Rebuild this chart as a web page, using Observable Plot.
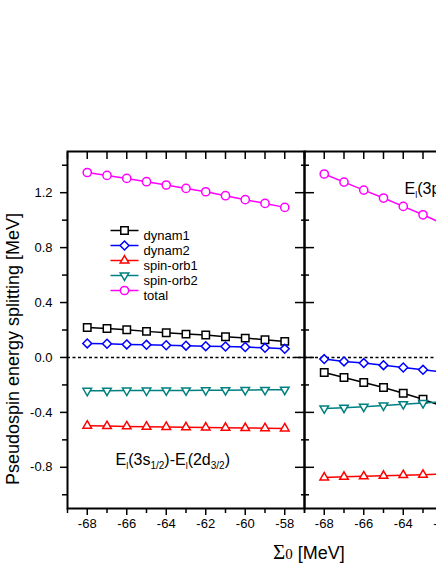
<!DOCTYPE html>
<html><head><meta charset="utf-8">
<script src="https://cdn.jsdelivr.net/npm/d3@7"></script>
<script src="https://cdn.jsdelivr.net/npm/@observablehq/plot@0.6"></script>
<style>
html,body{margin:0;padding:0;background:#fff;}
#wrap{width:436px;height:564px;overflow:hidden;position:relative;background:#fff;}
#wrap svg{max-width:none !important;}
</style></head><body><div id="wrap"></div>
<script>
// ---- data ----
const sigmaLeft = [-68,-67,-66,-65,-64,-63,-62,-61,-60,-59,-58];
const sigmaRight = [-68,-67,-66,-65,-64,-63,-62];
const seriesNames = ["dynam1","dynam2","spin-orb1","spin-orb2","total"];
const seriesColors = ["#000000","#0000ff","#ff0000","#008080","#ff00ff"];

const dynam1L = [0.218,0.211,0.202,0.190,0.180,0.170,0.163,0.151,0.141,0.129,0.117];
const dynam2L = [0.102,0.100,0.095,0.092,0.089,0.086,0.082,0.080,0.076,0.070,0.063];
const spinorb1L = [-0.497,-0.500,-0.502,-0.504,-0.506,-0.508,-0.510,-0.512,-0.514,-0.515,-0.517];
const spinorb2L = [-0.243,-0.242,-0.241,-0.241,-0.240,-0.240,-0.239,-0.238,-0.237,-0.236,-0.235];
const totalL = [1.347,1.326,1.304,1.280,1.256,1.231,1.207,1.178,1.149,1.122,1.093];

const dynam1R = [-0.109,-0.146,-0.182,-0.219,-0.260,-0.305,-0.355];
const dynam2R = [-0.012,-0.029,-0.041,-0.056,-0.073,-0.090,-0.105];
const spinorb1R = [-0.874,-0.869,-0.866,-0.862,-0.857,-0.854,-0.850];
const spinorb2R = [-0.371,-0.366,-0.359,-0.350,-0.340,-0.332,-0.323];
const totalR = [1.336,1.277,1.219,1.161,1.100,1.039,0.975];

const xMajor = [-68,-66,-64,-62,-60,-58];
const xMinor = [-69,-67,-65,-63,-61,-59,-57];
const yMajor = [-0.8,-0.4,0,0.4,0.8,1.2];
const yMinor = [-1.0,-0.6,-0.2,0.2,0.6,1.0,1.4];

const yLabel = "Pseudospin energy splitting [MeV]";
const annotLeft = [["E",0],["l",1],["(3s",0],["1/2",1],[")-E",0],["l",1],["(2d",0],["3/2",1],[")",0]];
const annotRight = [["E",0],["l",1],["(3p",0],["3/2",1],[")-E",0],["l",1],["(2f",0],["5/2",1],[")",0]];

// ---- build table ----
const leftValues = [dynam1L,dynam2L,spinorb1L,spinorb2L,totalL];
const rightValues = [dynam1R,dynam2R,spinorb1R,spinorb2R,totalR];
const rows = [];
seriesNames.forEach((s,i)=>{
  leftValues[i].forEach((v,j)=>rows.push({panel:"a",series:s,x:sigmaLeft[j],y:v}));
  rightValues[i].forEach((v,j)=>rows.push({panel:"b",series:s,x:sigmaRight[j],y:v}));
});

const downTriangle = {draw(ctx,size){const s=Math.sqrt(size)*0.6824,t=s/2,u=s*Math.sqrt(3)/2;ctx.moveTo(0,s);ctx.lineTo(u,-t);ctx.lineTo(-u,-t);ctx.closePath();}};
const legendLine = {draw(ctx){ctx.moveTo(-14,0);ctx.lineTo(14,0);}};
const symbols = ["square","diamond2","triangle2",downTriangle,"circle"];
const radii = [4.2,4.0,4.1,4.1,4.1];
const noLabel = () => "";

const marks = [
  Plot.ruleY([0], {stroke:"#000", strokeWidth:1.5, strokeDasharray:"3,2.5"})
];
seriesNames.forEach((s,i)=>{
  const d = rows.filter(r=>r.series===s);
  marks.push(Plot.line(d, {x:"x", y:"y", fx:"panel", stroke:seriesColors[i], strokeWidth:1.5}));
  marks.push(Plot.dot(d, {x:"x", y:"y", fx:"panel", symbol:symbols[i], r:radii[i], stroke:seriesColors[i], fill:"white", strokeWidth:1.5}));
});
// legend (left panel)
seriesNames.forEach((s,i)=>{
  const d = [{panel:"a", series:s}];
  marks.push(Plot.dot(d, {fx:"panel", frameAnchor:"top-left", dx:57, dy:79+15*i, symbol:legendLine, r:4, stroke:seriesColors[i], strokeWidth:1.5}));
  marks.push(Plot.dot(d, {fx:"panel", frameAnchor:"top-left", dx:57, dy:79+15*i, symbol:symbols[i], r:radii[i], stroke:seriesColors[i], fill:"white", strokeWidth:1.5}));
  marks.push(Plot.text(d, {fx:"panel", frameAnchor:"top-left", dx:76, dy:79+15*i, text:"series", textAnchor:"start", fontSize:13, fill:"#000"}));
});
const plainL = annotLeft.map(p=>p[0]).join("");
const plainR = annotRight.map(p=>p[0]).join("");
marks.push(Plot.text([{panel:"a", t:plainL}], {fx:"panel", frameAnchor:"bottom-left", dx:48, dy:-44, text:"t", textAnchor:"start", fontSize:16, fill:"#000"}));
marks.push(Plot.text([{panel:"b", t:plainR}], {fx:"panel", frameAnchor:"top-left", dx:100, dy:31, text:"t", textAnchor:"start", fontSize:16, fill:"#000"}));

marks.push(
  Plot.frame({stroke:"#000", strokeWidth:2}),
  Plot.axisX({anchor:"bottom", ticks:xMajor, tickSize:7, tickPadding:3, tickFormat:d=>String(d), label:null, strokeWidth:1.5, fontSize:13}),
  Plot.axisX({anchor:"bottom", ticks:xMinor, tickSize:5, tickFormat:noLabel, label:null, strokeWidth:1.5}),
  Plot.axisX({anchor:"top", ticks:xMajor, tickSize:-7, tickFormat:noLabel, label:null, strokeWidth:1.5}),
  Plot.axisX({anchor:"top", ticks:xMinor, tickSize:-7, tickFormat:noLabel, label:null, strokeWidth:1.5}),
  Plot.axisY({anchor:"left", ticks:yMajor, tickSize:7, tickPadding:8, tickFormat:d=>d.toFixed(1), label:null, strokeWidth:1.5, fontSize:13}),
  Plot.axisY({anchor:"left", ticks:yMinor, tickSize:5, tickFormat:noLabel, label:null, strokeWidth:1.5}),
  Plot.axisY({anchor:"left", facetAnchor:"right", ticks:yMajor, tickSize:9, tickFormat:noLabel, label:null, strokeWidth:1.5}),
  Plot.axisY({anchor:"left", facetAnchor:"right", ticks:yMajor, tickSize:-10, tickFormat:noLabel, label:null, strokeWidth:1.5}),
  Plot.axisY({anchor:"left", facetAnchor:"right", ticks:yMinor, tickSize:3, tickFormat:noLabel, label:null, strokeWidth:1.5}),
  Plot.axisY({anchor:"left", facetAnchor:"right", ticks:yMinor, tickSize:-5, tickFormat:noLabel, label:null, strokeWidth:1.5})
);

const chart = Plot.plot({
  width: 561, height: 564,
  marginLeft: 67, marginRight: 20, marginTop: 151, marginBottom: 56,
  fx: {domain:["a","b"], padding:0, axis:null},
  x: {domain:[-69,-57]},
  y: {domain:[-1.1,1.5]},
  style: {fontFamily:"'Liberation Sans', Arial, sans-serif", fontSize:"13px", background:"white", color:"black", maxWidth:"none"},
  marks
});
document.getElementById("wrap").appendChild(chart);

const svg = d3.select(chart);
// drop empty tick-label texts
svg.selectAll("text").filter(function(){return this.textContent==="";}).remove();
// rich text for annotations (subscripts)
function rich(plain, parts){
  svg.selectAll("text").filter(function(){return this.textContent===plain;}).each(function(){
    const t = d3.select(this); t.text(null);
    let shifted = false;
    parts.forEach(([s,sub])=>{
      const ts = t.append("tspan").text(s);
      if (sub){ ts.attr("font-size", s.length>1?10:9); if(!shifted){ts.attr("dy",4);shifted=true;} }
      else if (shifted){ ts.attr("dy",-4); shifted=false; }
    });
  });
}
rich(plainL, annotLeft);
rich(plainR, annotRight);

// axis titles
svg.append("text").attr("transform","translate(19,349) rotate(-90)")
  .attr("text-anchor","middle").attr("font-size",18).attr("fill","#000").text(yLabel);
const xl = svg.append("text").attr("x",273).attr("y",559).attr("text-anchor","start").attr("fill","#000");
xl.append("tspan").attr("font-family","'Liberation Serif', 'Times New Roman', serif").attr("font-size",21).text("Σ");
xl.append("tspan").attr("font-family","'Liberation Serif', 'Times New Roman', serif").attr("font-size",15).text("0");
xl.append("tspan").attr("font-size",18).text(" [MeV]");
</script>
</body></html>
